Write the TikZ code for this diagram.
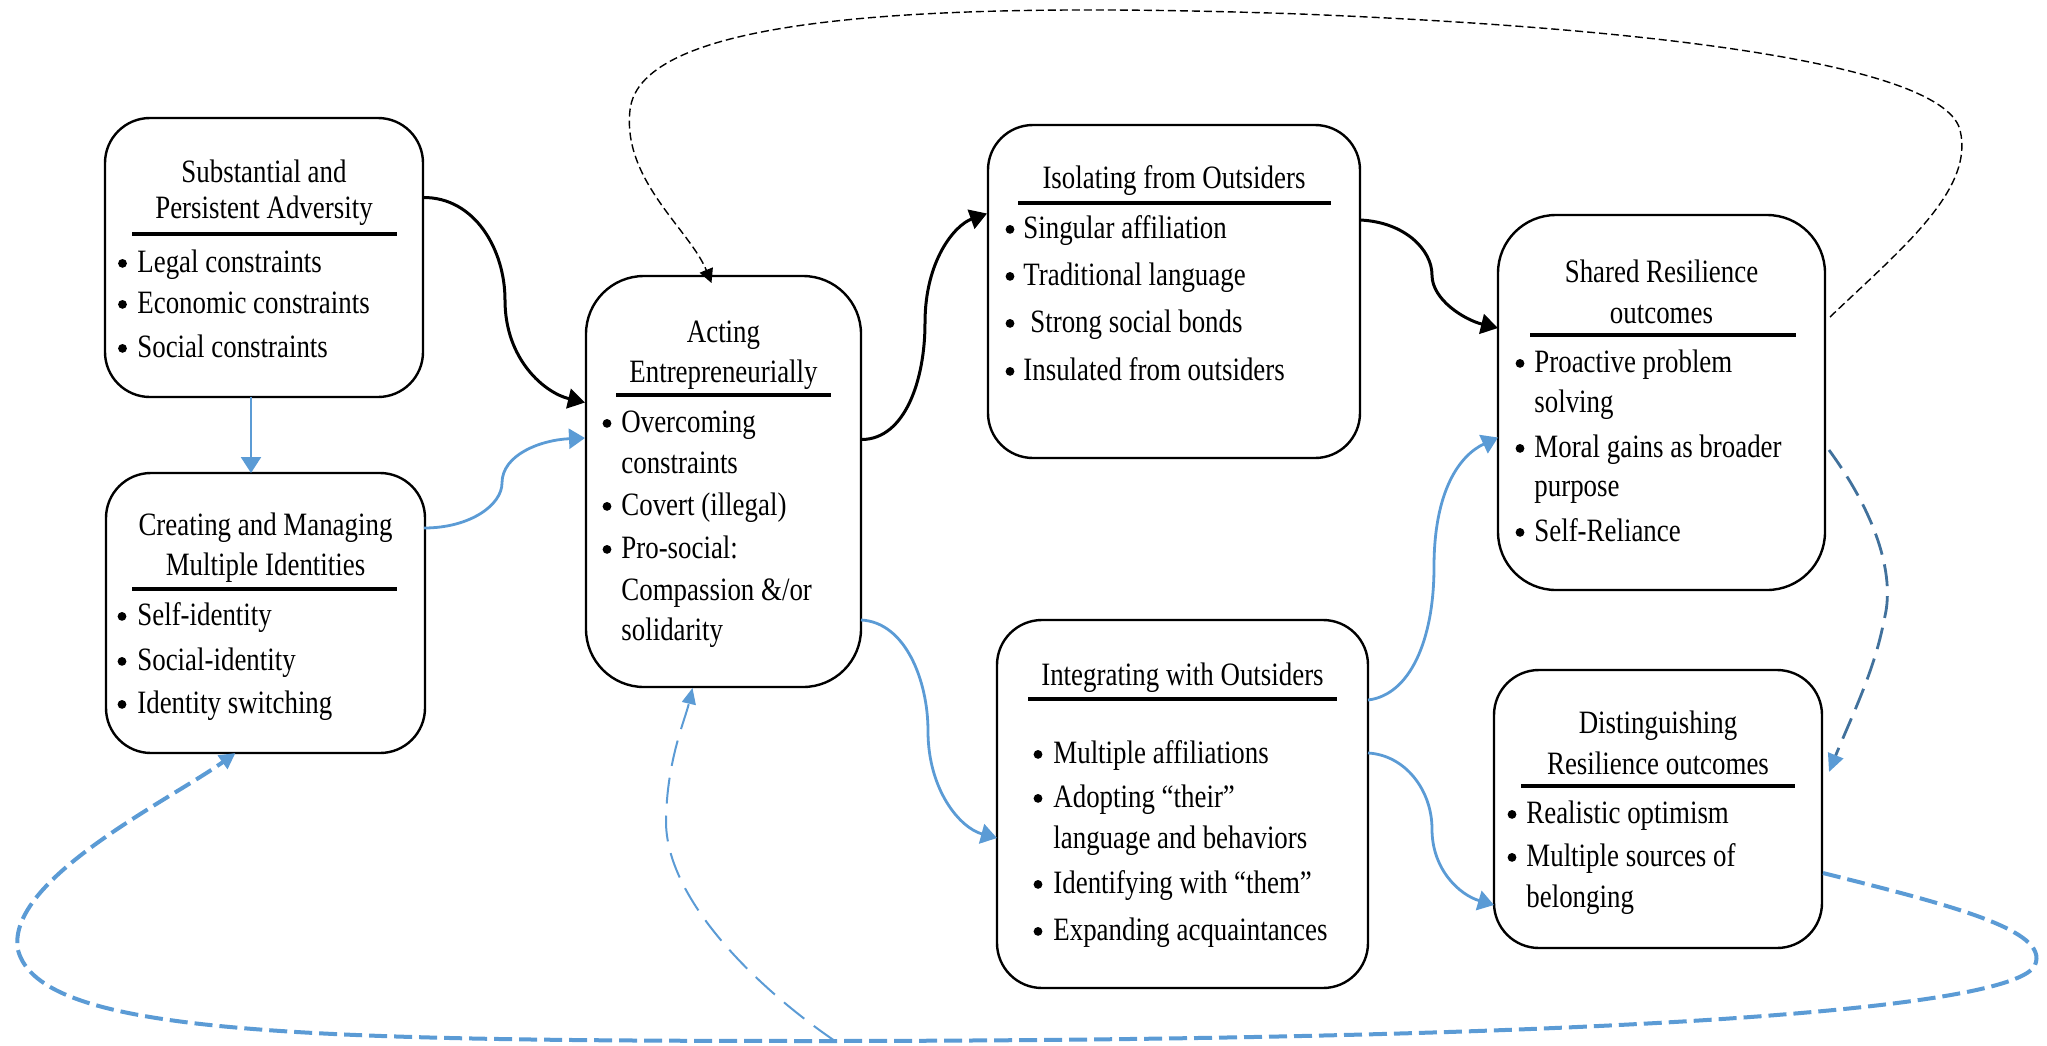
\documentclass[tikz,border=0pt]{standalone}
\usepackage{fontspec}
\setmainfont{Liberation Serif}[FakeStretch=0.825]
\usetikzlibrary{arrows.meta,calc}
\definecolor{lblue}{HTML}{5B9BD5}
\definecolor{dblue}{HTML}{41719C}
\tikzset{
  box/.style={draw, line width=1.2pt, rounded corners=22.5pt, inner sep=0pt, outer sep=0pt},
  bigbox/.style={box, rounded corners=29pt},
  ttl/.style={anchor=base, inner sep=0pt, font=\fontsize{16.3}{18}\selectfont},
  itm/.style={anchor=base west, inner sep=0pt, font=\fontsize{16.3}{18}\selectfont},
  bul/.style={circle, fill=black, inner sep=0pt, minimum size=4.4pt, yshift=4.3pt},
  hrule/.style={line width=1.7pt},
  blk/.style={line width=1.5pt, -{Triangle[length=8.5pt,width=10pt]}},
  blu/.style={line width=1.4pt, lblue, -{Triangle[length=8pt,width=10pt]}},
  topd/.style={line width=0.7pt, dash pattern=on 4pt off 2pt, -{Triangle[length=7pt,width=7pt]}},
  dsh/.style={line width=1.4pt, dblue, dash pattern=on 11pt off 5pt, -{Triangle[length=9pt,width=8pt,color=lblue]}},
  loopd/.style={line width=2pt, lblue, dash pattern=on 9pt off 3.5pt, -{Triangle[length=8pt,width=8pt]}},
  brd/.style={line width=1pt, lblue, dash pattern=on 13pt off 6pt, -{Triangle[length=8pt,width=7pt]}}
}
\newcommand\ttline[4]{\node[ttl] (#1) at (#2,#3) {#4};}
\newcommand\bxitem[5]{\node[bul] (#1b) at (#2,#4) {}; \node[itm] (#1) at (#3,#4) {#5};}
\newcommand\contline[4]{\node[itm] (#1) at (#2,#3) {#4};}
\begin{document}
\begin{tikzpicture}[x=0.5pt,y=-0.5pt]
\useasboundingbox (0,0) rectangle (2047,1045);

% boxes
\node[box, minimum width=159pt, minimum height=139.5pt] (box1) at (264,257.5) {};
\node[box, minimum width=159.5pt, minimum height=140pt] (box2) at (265.5,613) {};
\node[bigbox, minimum width=137.5pt, minimum height=205.5pt] (box3) at (723.5,481.5) {};
\node[box, minimum width=186pt, minimum height=166.5pt] (box4) at (1174,291.5) {};
\node[box, minimum width=185.5pt, minimum height=184pt] (box5) at (1182.5,804) {};
\node[bigbox, minimum width=163.5pt, minimum height=187.5pt] (box6) at (1661.5,402.5) {};
\node[box, minimum width=164pt, minimum height=139pt] (box7) at (1658,809) {};

% box 1
\ttline{t1a}{264}{182}{Substantial and}
\ttline{t1b}{264}{218}{Persistent Adversity}
\draw[hrule] (132,234) -- (397,234);
\bxitem{i1a}{122.5}{137}{272}{Legal constraints}
\bxitem{i1b}{122.5}{137}{313}{Economic constraints}
\bxitem{i1c}{122.5}{137}{357}{Social constraints}

% box 2
\ttline{t2a}{265.5}{535}{Creating and Managing}
\ttline{t2b}{265.5}{575}{Multiple Identities}
\draw[hrule] (132,589) -- (397,589);
\bxitem{i2a}{122}{137}{625}{Self-identity}
\bxitem{i2b}{122}{137}{670}{Social-identity}
\bxitem{i2c}{122}{137}{713}{Identity switching}

% box 3
\ttline{t3a}{723.5}{342}{Acting}
\ttline{t3b}{723.5}{382}{Entrepreneurially}
\draw[hrule] (616,395) -- (831,395);
\bxitem{i3a}{607}{621}{432}{Overcoming}
\contline{i3a2}{621}{473}{constraints}
\bxitem{i3b}{607}{621}{515}{Covert (illegal)}
\bxitem{i3c}{607}{621}{558}{Pro-social:}
\contline{i3c2}{621}{600}{Compassion \&/or}
\contline{i3c3}{621}{640}{solidarity}

% box 4
\ttline{t4a}{1174}{188}{Isolating from Outsiders}
\draw[hrule] (1018,203) -- (1331,203);
\bxitem{i4a}{1010}{1023}{238}{Singular affiliation}
\bxitem{i4b}{1010}{1023}{285}{Traditional language}
\bxitem{i4c}{1010}{1030}{332}{Strong social bonds}
\bxitem{i4d}{1010}{1023}{380}{Insulated from outsiders}

% box 5
\ttline{t5a}{1182.5}{685}{Integrating with Outsiders}
\draw[hrule] (1028,699) -- (1337,699);
\bxitem{i5a}{1038}{1053}{763}{Multiple affiliations}
\bxitem{i5b}{1038}{1053}{807}{Adopting “their”}
\contline{i5b2}{1053}{848}{language and behaviors}
\bxitem{i5c}{1038}{1053}{893}{Identifying with “them”}
\bxitem{i5d}{1038}{1053}{940}{Expanding acquaintances}

% box 6
\ttline{t6a}{1661.5}{282}{Shared Resilience}
\ttline{t6b}{1661.5}{323}{outcomes}
\draw[hrule] (1530,335) -- (1796,335);
\bxitem{i6a}{1520}{1534}{372}{Proactive problem}
\contline{i6a2}{1534}{412}{solving}
\bxitem{i6b}{1520}{1534}{457}{Moral gains as broader}
\contline{i6b2}{1534}{496}{purpose}
\bxitem{i6c}{1520}{1534}{541}{Self-Reliance}

% box 7
\ttline{t7a}{1658}{733}{Distinguishing}
\ttline{t7b}{1658}{774}{Resilience outcomes}
\draw[hrule] (1521,786) -- (1795,786);
\bxitem{i7a}{1512}{1526}{823}{Realistic optimism}
\bxitem{i7b}{1512}{1526}{866}{Multiple sources of}
\contline{i7b2}{1526}{907}{belonging}

% black connectors
\draw[blk] ($(box1.east)+(0,-60)$) .. controls (475,197) and (505,250) .. (505,300)
  .. controls (505,360) and (545,393) .. ($(box3.west)+(-1,-79)$);
\draw[blk] ($(box3.east)+(1,-42)$) .. controls (905,439) and (925,380) .. (925,323)
  .. controls (925,260) and (955,225) .. ($(box4.west)+(-1,-78)$);
\draw[blk] ($(box4.east)+(0,-71.5)$) .. controls (1405,222) and (1432,250) .. (1432,275)
  .. controls (1432,300) and (1465,320) .. ($(box6.west)+(0,-74.5)$);

% blue connectors
\draw[blu, line width=1.2pt] ($(box1.south)+(-13,0)$) -- ($(box2.north)+(-14.5,0)$);
\draw[blu] ($(box2.east)+(-1,-85)$) .. controls (470,528) and (502,505) .. (502,483)
  .. controls (502,455) and (540,440) .. ($(box3.west)+(-1,-43.5)$);
\draw[blu] ($(box3.east)+(0,138.5)$) .. controls (905,622) and (928,680) .. (928,731)
  .. controls (928,790) and (960,828) .. ($(box5.west)+(0,34)$);
\draw[blu] ($(box5.east)+(0,-104)$) .. controls (1410,695) and (1434,640) .. (1434,567)
  .. controls (1434,490) and (1460,455) .. ($(box6.west)+(0,35)$);
\draw[blu] ($(box5.east)+(0,-51)$) .. controls (1405,755) and (1432,790) .. (1432,829)
  .. controls (1432,870) and (1460,895) .. ($(box7.west)+(0,96)$);

% dashed feedback connectors
\draw[topd] ($(box6.east)+(5,-85.5)$) .. controls (1900,250) and (1975,190) .. (1960,130)
  .. controls (1945,70) and (1700,30) .. (1300,14)
  .. controls (900,0) and (640,20) .. (630,110)
  .. controls (622,180) and (690,230) .. ($(box3.north)+(-12,7)$);
\draw[dsh] ($(box6.east)+(4,47.5)$) .. controls (1880,520) and (1895,580) .. (1884,620)
  .. controls (1875,670) and (1850,720) .. ($(box7.east)+(7,-37)$);
\draw[loopd] ($(box7.east)+(1,64)$) .. controls (1950,905) and (2050,930) .. (2035,965)
  .. controls (2015,1010) and (1600,1040) .. (835,1041) coordinate (kmid)
  .. controls (300,1041) and (40,1035) .. (18,950)
  .. controls (5,880) and (170,800) .. ($(box2.south)+(-30,0)$);
\draw[brd] (kmid) .. controls (760,990) and (665,900) .. (666,820)
  .. controls (667,760) and (685,720) .. ($(box3.south)+(-31,1)$);
\end{tikzpicture}
\end{document}
